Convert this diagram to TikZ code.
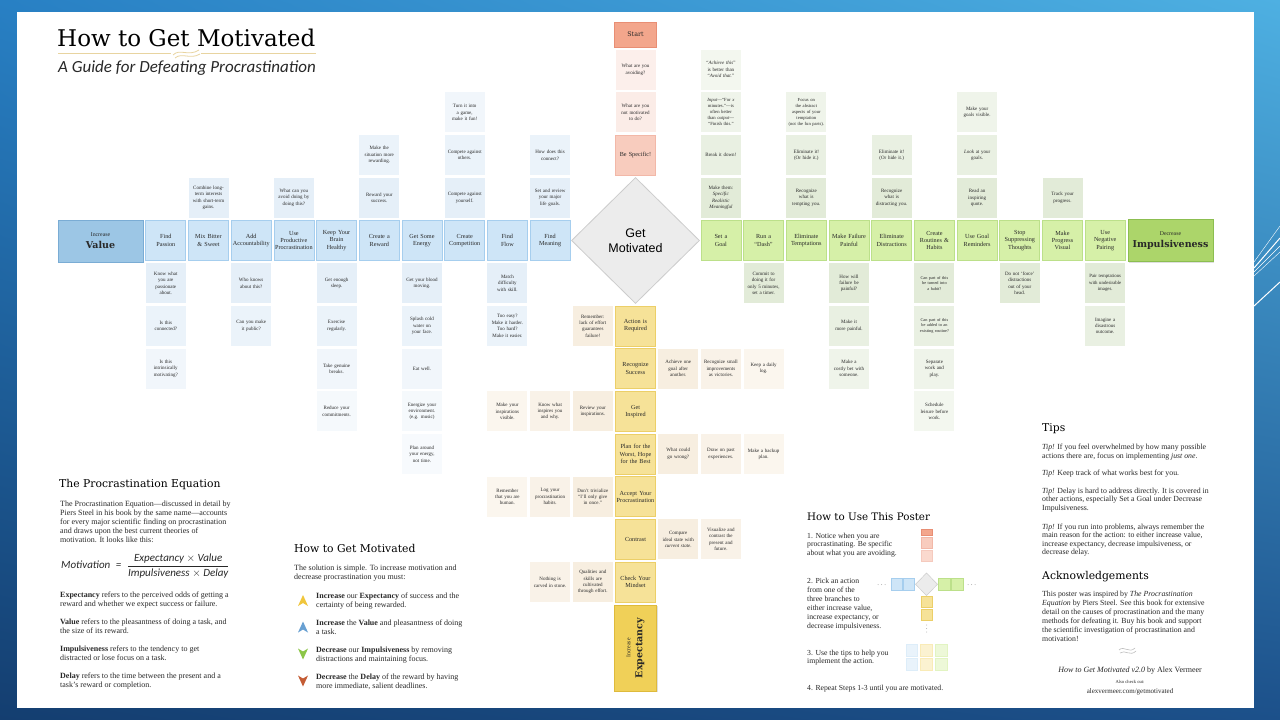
\documentclass[tikz,border=0pt]{standalone}
\usepackage{fontspec}
\setmainfont{Liberation Serif}
\newfontfamily\slabfont{DejaVu Serif}
\newfontfamily\sansfont{Liberation Sans}
\newfontfamily\calfont{Carlito}
\usetikzlibrary{shapes.geometric,shadows,shadings}
\newcommand{\bigword}{\slabfont\bfseries\fontsize{9.5}{11}\selectfont}

\definecolor{VM}{RGB}{206,229,247}
\definecolor{VD}{RGB}{166,206,238}
\definecolor{VB}{RGB}{156,198,229}
\definecolor{VBD}{RGB}{122,172,212}
\definecolor{VS}{RGB}{229,239,248}
\definecolor{IM}{RGB}{214,240,168}
\definecolor{ID}{RGB}{188,224,138}
\definecolor{IB}{RGB}{172,213,106}
\definecolor{IBD}{RGB}{140,190,80}
\definecolor{IS}{RGB}{226,235,216}
\definecolor{EM}{RGB}{246,226,152}
\definecolor{ED}{RGB}{236,207,104}
\definecolor{EB}{RGB}{240,208,88}
\definecolor{EBD}{RGB}{222,186,60}
\definecolor{ES}{RGB}{247,238,224}
\definecolor{SM}{RGB}{243,166,140}
\definecolor{SD}{RGB}{232,142,116}
\definecolor{SB}{RGB}{248,204,190}
\definecolor{SBD}{RGB}{242,184,168}
\definecolor{SS}{RGB}{251,236,231}
\definecolor{DF}{RGB}{236,236,236}
\definecolor{DD}{RGB}{204,204,204}
\definecolor{txt}{RGB}{40,40,40}
\definecolor{orn}{RGB}{232,212,160}
\definecolor{bgA}{RGB}{40,128,196}
\definecolor{bgB}{RGB}{78,176,226}
\definecolor{bgC}{RGB}{20,62,112}
\definecolor{bgD}{RGB}{28,80,138}
\definecolor{TY}{RGB}{240,198,60}
\definecolor{TB}{RGB}{104,160,210}
\definecolor{TG}{RGB}{140,198,72}
\definecolor{TR}{RGB}{196,92,52}

\tikzset{
  tile/.style={minimum size=40pt, inner sep=0pt, text width=38pt, align=center, text=txt, font=\fontsize{6.2}{7.3}\selectfont},
  subtile/.style={tile, text=txt, font=\fontsize{5}{6.4}\selectfont},
  vmain/.style={tile, fill=VM, draw=VD, line width=0.8pt},
  imain/.style={tile, fill=IM, draw=ID, line width=0.8pt},
  emain/.style={tile, fill=EM, draw=ED, line width=0.8pt},
  smain/.style={tile, fill=SB, draw=SBD, line width=0.8pt},
  vsub/.style={subtile, fill=VS!#1!white}, vsub/.default=100,
  isub/.style={subtile, fill=IS!#1!white}, isub/.default=100,
  esub/.style={subtile, fill=ES!#1!white}, esub/.default=100,
  ssub/.style={subtile, fill=SS!#1!white}, ssub/.default=100,
  bigbox/.style={inner sep=0pt, align=center, text=txt, line width=0.8pt, font=\fontsize{5.8}{8}\selectfont,
    drop shadow={opacity=0.25, shadow xshift=1pt, shadow yshift=-1.2pt}},
  panelhead/.style={anchor=base west, inner sep=0pt, text=black, font=\slabfont\fontsize{10.8}{13}\selectfont},
  paneltext/.style={anchor=base west, inner sep=0pt, align=left, text=txt, font=\fontsize{8}{9}\selectfont},
  tiptext/.style={paneltext, font=\fontsize{7.8}{8.5}\selectfont},
  usetext/.style={paneltext, font=\fontsize{7.7}{8.9}\selectfont},
  mini/.style={line width=0.5pt}
}

\begin{document}
\begin{tikzpicture}[x=1pt, y=-1pt]
  \useasboundingbox (0,0) rectangle (1280,720);
  %Fondo
  \shade[upper left=bgA, upper right=bgB, lower left=bgC, lower right=bgD] (0,0) rectangle (1280,720);
  \draw[white, line width=0.4pt] (1254,262) -- (1280,226);
  \draw[white, line width=1pt] (1254,268) -- (1280,238);
  \draw[white, line width=0.4pt] (1254,272) -- (1280,246);
  \draw[white, line width=0.4pt] (1254,276) -- (1280,252);
  \draw[white, line width=1pt] (1254,306) -- (1280,282);
  \fill[white] (17,12) rectangle (1254,708);

  %Title
  \node[anchor=base west, inner sep=0pt, font=\slabfont\fontsize{23}{26}\selectfont] (title) at (57,46.5) {How to Get Motivated};
  \draw[orn, line width=0.7pt] (58,53.5) -- (171,53.5);
  \draw[orn, line width=0.7pt] (201,53.5) -- (316,53.5);
  \draw[orn, line width=0.8pt] (173,55) .. controls (180,48) and (188,57) .. (199,50);
  \draw[orn, line width=0.8pt] (175,58) .. controls (182,52) and (190,60) .. (200,54);
  \node[anchor=base west, inner sep=0pt, text=txt, font=\calfont\itshape\fontsize{17}{18}\selectfont] (subtitle) at (58,72.5) {A Guide for Defeating Procrastination};

  %Big boxes
  \node[bigbox, fill=VB, draw=VBD, minimum width=85pt, minimum height=42pt, text width=83pt] (value) at (100.5,241) {Increase\\[4pt]{\bigword Value}};
  \node[bigbox, fill=IB, draw=IBD, minimum width=85pt, minimum height=42pt, text width=83pt] (impulse) at (1170.5,240.5) {Decrease\\[4pt]{\bigword Impulsiveness}};
  \node[bigbox, fill=EB, draw=EBD, minimum width=86pt, minimum height=42pt, text width=84pt, rotate=90] (expect) at (635.5,648) {Increase\\[4pt]{\bigword Expectancy}};
  \node[tile, fill=SM, draw=SD, line width=0.8pt, minimum size=0pt, minimum width=42pt, minimum height=25pt, font=\slabfont\fontsize{6.4}{7.5}\selectfont] (start) at (635.5,34.5) {Start};

  \begin{scope}[shift={(635.5,240.5)}, x=42.7pt, y=-42.7pt]
    %Get Motivated
    \node[diamond, draw=DD, fill=DF, line width=0.8pt, minimum width=128pt, minimum height=126pt, inner sep=0pt,
      align=center, text=black, font=\sansfont\fontsize{12.5}{15}\selectfont] (motivated) at (0,0) {Get\\Motivated};

    %Be specific
    \node[ssub=85] (specific-2) at (0,-4) {What are you\\avoiding?};
    \node[ssub] (specific-1) at (0,-3) {What are you\\not motivated\\to do?};
    \node[smain] (specific) at (0,-2) {Be Specific!};

    %Value branch
    \node[vmain] (passion) at (-11,0) {Find\\Passion};
    \node[vsub] (passion-1) at (-11,1) {Know what\\you are\\passionate\\about.};
    \node[vsub=75] (passion-2) at (-11,2) {Is this\\connected?};
    \node[vsub=55] (passion-3) at (-11,3) {Is this\\intrinsically\\motivating?};
    \node[vmain] (bitter) at (-10,0) {Mix Bitter\\\& Sweet};
    \node[vsub] (bitter-1) at (-10,-1) {Combine long-\\term interests\\with short-term\\gains.};
    \node[vmain] (account) at (-9,0) {Add\\Accountability};
    \node[vsub] (account-1) at (-9,1) {Who knows\\about this?};
    \node[vsub=75] (account-2) at (-9,2) {Can you make\\it public?};
    \node[vmain] (useproc) at (-8,0) {Use\\Productive\\Procrastination};
    \node[vsub] (useproc-1) at (-8,-1) {What can you\\avoid doing by\\doing this?};
    \node[vmain] (brain) at (-7,0) {Keep Your\\Brain\\Healthy};
    \node[vsub] (brain-1) at (-7,1) {Get enough\\sleep.};
    \node[vsub=75] (brain-2) at (-7,2) {Exercise\\regularly.};
    \node[vsub=55] (brain-3) at (-7,3) {Take genuine\\breaks.};
    \node[vsub=40] (brain-4) at (-7,4) {Reduce your\\commitments.};
    \node[vmain] (reward) at (-6,0) {Create a\\Reward};
    \node[vsub] (reward-1) at (-6,-1) {Reward your\\success.};
    \node[vsub=75] (reward-2) at (-6,-2) {Make the\\situation more\\rewarding.};
    \node[vmain] (energy) at (-5,0) {Get Some\\Energy};
    \node[vsub] (energy-1) at (-5,1) {Get your blood\\moving.};
    \node[vsub=75] (energy-2) at (-5,2) {Splash cold\\water on\\your face.};
    \node[vsub=55] (energy-3) at (-5,3) {Eat well.};
    \node[vsub=40] (energy-4) at (-5,4) {Energize your\\environment.\\(e.g. music)};
    \node[vsub=30] (energy-5) at (-5,5) {Plan around\\your energy,\\not time.};
    \node[vmain] (compete) at (-4,0) {Create\\Competition};
    \node[vsub] (compete-1) at (-4,-1) {Compete against\\yourself.};
    \node[vsub=75] (compete-2) at (-4,-2) {Compete against\\others.};
    \node[vsub=55] (compete-3) at (-4,-3) {Turn it into\\a game,\\make it fun!};
    \node[vmain] (flow) at (-3,0) {Find\\Flow};
    \node[vsub] (flow-1) at (-3,1) {Match\\difficulty\\with skill.};
    \node[vsub=75] (flow-2) at (-3,2) {Too easy?\\Make it harder.\\Too hard?\\Make it easier.};
    \node[vmain] (meaning) at (-2,0) {Find\\Meaning};
    \node[vsub] (meaning-1) at (-2,-1) {Set and review\\your major\\life goals.};
    \node[vsub=75] (meaning-2) at (-2,-2) {How does this\\connect?};

    %Expectancy branch
    \node[emain] (action) at (0,2) {Action is\\Required};
    \node[esub] (action-1) at (-1,2) {Remember:\\lack of effort\\guarantees\\failure!};
    \node[emain] (success) at (0,3) {Recognize\\Success};
    \node[esub] (success-1) at (1,3) {Achieve one\\goal after\\another.};
    \node[esub=75] (success-2) at (2,3) {Recognize small\\improvements\\as victories.};
    \node[esub=55] (success-3) at (3,3) {Keep a daily\\log.};
    \node[emain] (inspired) at (0,4) {Get\\Inspired};
    \node[esub] (inspired-1) at (-1,4) {Review your\\inspirations.};
    \node[esub=75] (inspired-2) at (-2,4) {Know what\\inspires you\\and why.};
    \node[esub=55] (inspired-3) at (-3,4) {Make your\\inspirations\\visible.};
    \node[emain] (worst) at (0,5) {Plan for the\\Worst, Hope\\for the Best};
    \node[esub] (worst-1) at (1,5) {What could\\go wrong?};
    \node[esub=75] (worst-2) at (2,5) {Draw on past\\experiences.};
    \node[esub=55] (worst-3) at (3,5) {Make a backup\\plan.};
    \node[emain] (accept) at (0,6) {Accept Your\\Procrastination};
    \node[esub] (accept-1) at (-1,6) {Don’t trivialize\\“I’ll only give\\in once.”};
    \node[esub=75] (accept-2) at (-2,6) {Log your\\procrastination\\habits.};
    \node[esub=55] (accept-3) at (-3,6) {Remember\\that you are\\human.};
    \node[emain] (contrast) at (0,7) {Contrast};
    \node[esub] (contrast-1) at (1,7) {Compare\\ideal state with\\\emph{current state}.};
    \node[esub=75] (contrast-2) at (2,7) {Visualize and\\contrast the\\present and\\future.};
    \node[emain] (mindset) at (0,8) {Check Your\\Mindset};
    \node[esub] (mindset-1) at (-1,8) {Qualities and\\skills are\\cultivated\\through effort.};
    \node[esub=75] (mindset-2) at (-2,8) {Nothing is\\carved in stone.};

    %Impulsiveness branch
    \node[imain] (setgoal) at (2,0) {Set a\\Goal};
    \node[isub] (setgoal-1) at (2,-1) {Make them:\\\emph{Specific}\\\emph{Realistic}\\\emph{Meaningful}};
    \node[isub=75] (setgoal-2) at (2,-2) {Break it down!};
    \node[isub=55, font=\fontsize{4.7}{6}\selectfont] (setgoal-3) at (2,-3) {\emph{Input}—“For \emph{x}\\minutes.”—is\\often better\\than \emph{output}—\\“Finish this.”};
    \node[isub=40] (setgoal-4) at (2,-4) {“\emph{Achieve this}”\\is better than\\“\emph{Avoid that.}”};
    \node[imain] (dash) at (3,0) {Run a\\“Dash”};
    \node[isub] (dash-1) at (3,1) {Commit to\\doing it for\\only 5 minutes,\\set a timer.};
    \node[imain] (tempt) at (4,0) {Eliminate\\Temptations};
    \node[isub] (tempt-1) at (4,-1) {Recognize\\what is\\tempting you.};
    \node[isub=75] (tempt-2) at (4,-2) {Eliminate it!\\(Or hide it.)};
    \node[isub=55, font=\fontsize{4.6}{6}\selectfont] (tempt-3) at (4,-3) {Focus on\\the abstract\\aspects of your\\temptation\\(not the fun parts).};
    \node[imain] (failure) at (5,0) {Make Failure\\Painful};
    \node[isub] (failure-1) at (5,1) {How will\\failure be\\painful?};
    \node[isub=75] (failure-2) at (5,2) {Make it\\more painful.};
    \node[isub=55] (failure-3) at (5,3) {Make a\\costly bet with\\someone.};
    \node[imain] (distract) at (6,0) {Eliminate\\Distractions};
    \node[isub] (distract-1) at (6,-1) {Recognize\\what is\\distracting you.};
    \node[isub=75] (distract-2) at (6,-2) {Eliminate it!\\(Or hide it.)};
    \node[imain] (routine) at (7,0) {Create\\Routines \&\\Habits};
    \node[isub, font=\fontsize{4.3}{5.6}\selectfont] (routine-1) at (7,1) {Can part of this\\be turned into\\a habit?};
    \node[isub=75, font=\fontsize{4.3}{5.6}\selectfont] (routine-2) at (7,2) {Can part of this\\be added to an\\existing routine?};
    \node[isub=55] (routine-3) at (7,3) {Separate\\work and\\play.};
    \node[isub=40] (routine-4) at (7,4) {Schedule\\leisure before\\work.};
    \node[imain] (remind) at (8,0) {Use Goal\\Reminders};
    \node[isub] (remind-1) at (8,-1) {Read an\\inspiring\\quote.};
    \node[isub=75] (remind-2) at (8,-2) {\emph{Look} at your\\goals.};
    \node[isub=55] (remind-3) at (8,-3) {Make your\\goals visible.};
    \node[imain] (suppress) at (9,0) {Stop\\Suppressing\\Thoughts};
    \node[isub] (suppress-1) at (9,1) {Do not ‘force’\\distractions\\out of your\\head.};
    \node[imain] (progress) at (10,0) {Make\\Progress\\Visual};
    \node[isub] (progress-1) at (10,-1) {Track your\\progress.};
    \node[imain] (pairing) at (11,0) {Use\\Negative\\Pairing};
    \node[isub, font=\fontsize{4.8}{6.4}\selectfont] (pairing-1) at (11,1) {Pair temptations\\with undesirable\\images.};
    \node[isub=75] (pairing-2) at (11,2) {Imagine a\\disastrous\\outcome.};
  \end{scope}

  %The Procrastination Equation
  \node[panelhead] (eqhead) at (59,487) {The Procrastination Equation};
  \node[paneltext] (eqintro) at (60,542.5) {The Procrastination Equation—discussed in detail by\\Piers Steel in his book by the same name—accounts\\for every major scientific finding on procrastination\\and draws upon the best current theories of\\motivation. It looks like this:};
  \node[anchor=west, inner sep=0pt, text=txt, font=\calfont\itshape\fontsize{11}{13}\selectfont] (equation) at (61,566)
    {Motivation\enspace=\enspace$\displaystyle\frac{\mbox{\calfont\itshape Expectancy $\times$ Value}}{\mbox{\calfont\itshape Impulsiveness $\times$ Delay}}$};
  \node[paneltext] (expdef) at (60,606.5) {\textbf{Expectancy} refers to the perceived odds of getting a\\reward and whether we expect success or failure.};
  \node[paneltext] (valdef) at (60,633) {\textbf{Value} refers to the pleasantness of doing a task, and\\the size of its reward.};
  \node[paneltext] (impdef) at (60,660.5) {\textbf{Impulsiveness} refers to the tendency to get\\distracted or lose focus on a task.};
  \node[paneltext] (deldef) at (60,687.5) {\textbf{Delay} refers to the time between the present and a\\task’s reward or completion.};

  %How to Get Motivated
  \node[panelhead] (howhead) at (294,552.5) {How to Get Motivated};
  \node[paneltext] (howintro) at (294,579.5) {The solution is simple. To increase motivation and\\decrease procrastination you must:};
  \foreach \yy/\cc/\dd in {600.5/TY/-1, 627/TB/-1, 654/TG/1, 681/TR/1}
    \fill[\cc] (303,\yy+5.5*\dd) -- (308,\yy-5.5*\dd) -- (303,\yy-2.5*\dd) -- (298,\yy-5.5*\dd) -- cycle;
  \node[paneltext] (howexp) at (316,607.5) {\textbf{Increase} our \textbf{Expectancy} of success and the\\certainty of being rewarded.};
  \node[paneltext] (howval) at (316,634) {\textbf{Increase} the \textbf{Value} and pleasantness of doing\\a task.};
  \node[paneltext] (howimp) at (316,661.5) {\textbf{Decrease} our \textbf{Impulsiveness} by removing\\distractions and maintaining focus.};
  \node[paneltext] (howdel) at (316,688) {\textbf{Decrease} the \textbf{Delay} of the reward by having\\more immediate, salient deadlines.};

  %How to Use This Poster
  \node[panelhead, font=\slabfont\fontsize{10.3}{12}\selectfont] (usehead) at (807,520.5) {How to Use This Poster};
  \node[usetext] (step1) at (807,555.8) {1. Notice when you are\\procrastinating. Be specific\\about what you are avoiding.};
  \node[usetext] (step2) at (807,628) {2. Pick an action\\from one of the\\three branches to\\either increase value,\\increase expectancy, or\\decrease impulsiveness.};
  \node[usetext] (step3) at (807,663.9) {3. Use the tips to help you\\implement the action.};
  \node[usetext] (step4) at (807,690.5) {4. Repeat Steps 1-3 until you are motivated.};
  % mini poster
  \filldraw[mini, fill=SM, draw=SD] (921,529) rectangle (932.5,535);
  \filldraw[mini, fill=SB, draw=SBD] (921,537) rectangle (932.5,548);
  \filldraw[mini, fill=SB!75!white, draw=SBD!75!white] (921,550) rectangle (932.5,561);
  \filldraw[mini, fill=VM, draw=VD] (891,578.5) rectangle (902,590);
  \filldraw[mini, fill=VM, draw=VD] (903.5,578.5) rectangle (914.5,590);
  \filldraw[mini, fill=DF, draw=DD] (926.5,573) -- (937.5,584.3) -- (926.5,595.5) -- (915.5,584.3) -- cycle;
  \filldraw[mini, fill=IM, draw=ID] (938.5,578.5) rectangle (950,590);
  \filldraw[mini, fill=IM, draw=ID] (951.5,578.5) rectangle (963,590);
  \filldraw[mini, fill=EM, draw=ED] (921,596) rectangle (932.5,607);
  \filldraw[mini, fill=EM, draw=ED] (921,609) rectangle (932.5,620);
  \foreach \dx in {878,881.5,885} \fill[gray!60] (\dx,584.5) circle (0.5);
  \foreach \dx in {968,971.5,975} \fill[gray!60] (\dx,584.5) circle (0.5);
  \foreach \dy in {625,628.5,632} \fill[gray!60] (926.5,\dy) circle (0.5);
  \foreach \cx/\cc in {906/VM, 920.5/EM, 935.5/IM} {
    \filldraw[mini, fill=\cc!45!white, draw=\cc!70!white] (\cx,644.5) rectangle (\cx+11.5,656);
    \filldraw[mini, fill=\cc!45!white, draw=\cc!70!white] (\cx,658.5) rectangle (\cx+11.5,670);
  }

  %Tips
  \node[panelhead] (tipshead) at (1042,431.5) {Tips};
  \node[tiptext] (tip1) at (1042,458) {\textit{Tip!} If you feel overwhelmed by how many possible\\actions there are, focus on implementing \textit{just one}.};
  \node[tiptext] (tip2) at (1042,475.5) {\textit{Tip!} Keep track of what works best for you.};
  \node[tiptext] (tip3) at (1042,510) {\textit{Tip!} Delay is hard to address directly. It is covered in\\other actions, especially Set a Goal under Decrease\\Impulsiveness.};
  \node[tiptext] (tip4) at (1042,554.5) {\textit{Tip!} If you run into problems, always remember the\\main reason for the action: to either increase value,\\increase expectancy, decrease impulsiveness, or\\decrease delay.};

  %Acknowledgements
  \node[panelhead] (ackhead) at (1042,579.5) {Acknowledgements};
  \node[tiptext, font=\fontsize{7.8}{9}\selectfont] (ack) at (1042,641.5) {This poster was inspired by \textit{The Procrastination}\\\textit{Equation} by Piers Steel. See this book for extensive\\detail on the causes of procrastination and the many\\methods for defeating it. Buy his book and support\\the scientific investigation of procrastination and\\motivation!};
  \draw[gray!50, line width=0.6pt] (1119,650) .. controls (1124,645) and (1129,654) .. (1135,648);
  \draw[gray!50, line width=0.6pt] (1120,653) .. controls (1125,649) and (1130,657) .. (1136,651);
  \node[anchor=base, inner sep=0pt, text=txt, font=\fontsize{8}{9}\selectfont] (credit) at (1130,672) {\textit{How to Get Motivated v2.0} by Alex Vermeer};
  \node[anchor=base, inner sep=0pt, text=txt, font=\fontsize{4.6}{5}\selectfont] (alsocheck) at (1130,683) {Also check out:};
  \node[anchor=base, inner sep=0pt, text=txt, font=\fontsize{7}{8}\selectfont] (url) at (1130,693) {alexvermeer.com/getmotivated};
\end{tikzpicture}
\end{document}
